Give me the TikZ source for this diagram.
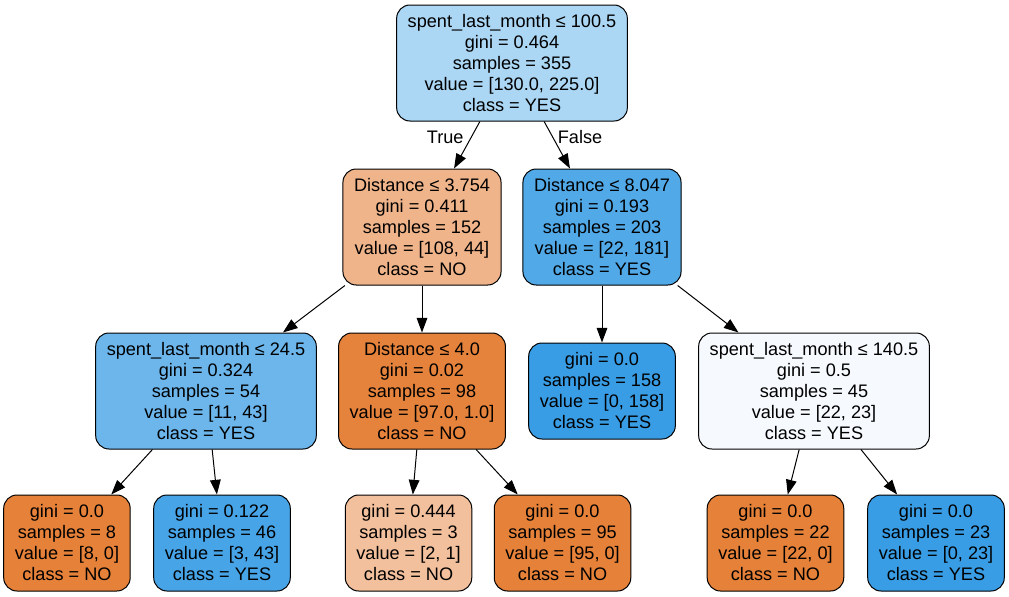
\documentclass[tikz,border=0pt]{standalone}
\usepackage{fontspec}
\setmainfont{Liberation Sans}
\usepackage{tikz}
\usetikzlibrary{arrows.meta,positioning}
\definecolor{yesfull}{HTML}{399DE5}
\definecolor{nofull}{HTML}{E58139}
\definecolor{rootfill}{HTML}{ABD6F4}
\definecolor{dlfill}{HTML}{F0B48A}
\definecolor{drfill}{HTML}{51A9E8}
\definecolor{llfill}{HTML}{6CB6EC}
\definecolor{lrfill}{HTML}{E5823B}
\definecolor{rrfill}{HTML}{F6FAFE}
\definecolor{llrfill}{HTML}{47A4E7}
\definecolor{lrlfill}{HTML}{F2C09C}

\begin{document}
\begin{tikzpicture}[x=0.75pt, y=-0.75pt, >={Triangle[length=11pt,width=8pt]}, node distance=123pt, on grid,
  line width=0.75pt, font=\fontsize{13.6}{15.75}\selectfont,
  split/.style={draw, rounded corners=10pt, align=center, inner xsep=8.3pt, minimum height=87pt},
  leaf/.style={split, minimum height=72pt}]
\useasboundingbox (0,0) rectangle (1009,596);
\node[split, fill=rootfill] (root) at (512,63) {spent\_last\_month ≤ 100.5\\gini = 0.464\\samples = 355\\value = [130.0, 225.0]\\class = YES};

\node[split, fill=dlfill, below=of root, xshift=-67.5pt] (dl) {Distance ≤ 3.754\\gini = 0.411\\samples = 152\\value = [108, 44]\\class = NO};
\node[split, fill=drfill, below=of root, xshift=67.5pt] (dr) {Distance ≤ 8.047\\gini = 0.193\\samples = 203\\value = [22, 181]\\class = YES};

\node[split, fill=llfill, below=of dl, xshift=-162pt] (ll) {spent\_last\_month ≤ 24.5\\gini = 0.324\\samples = 54\\value = [11, 43]\\class = YES};
\node[split, fill=lrfill, below=of dl] (lr) {Distance ≤ 4.0\\gini = 0.02\\samples = 98\\value = [97.0, 1.0]\\class = NO};
\node[leaf, fill=yesfull, below=of dr] (rl) {gini = 0.0\\samples = 158\\value = [0, 158]\\class = YES};
\node[split, fill=rrfill, below=of dr, xshift=159pt] (rr) {spent\_last\_month ≤ 140.5\\gini = 0.5\\samples = 45\\value = [22, 23]\\class = YES};

\node[leaf, fill=nofull, below=114pt of ll, xshift=-104.3pt] (lll) {gini = 0.0\\samples = 8\\value = [8, 0]\\class = NO};
\node[leaf, fill=llrfill, below=114pt of ll, xshift=12pt] (llr) {gini = 0.122\\samples = 46\\value = [3, 43]\\class = YES};
\node[leaf, fill=lrlfill, below=114pt of lr, xshift=-10.1pt] (lrl) {gini = 0.444\\samples = 3\\value = [2, 1]\\class = NO};
\node[leaf, fill=nofull, below=114pt of lr, xshift=105.4pt] (lrr) {gini = 0.0\\samples = 95\\value = [95, 0]\\class = NO};
\node[leaf, fill=nofull, below=114pt of rr, xshift=-28.9pt] (rrl) {gini = 0.0\\samples = 22\\value = [22, 0]\\class = NO};
\node[leaf, fill=yesfull, below=114pt of rr, xshift=91.5pt] (rrr) {gini = 0.0\\samples = 23\\value = [0, 23]\\class = YES};

\draw[->] (root) -- node[pos=0.34, left, xshift=-2pt]{True} (dl);
\draw[->] (root) -- node[pos=0.34, right]{False} (dr);
\draw[->] (dl) -- (ll);
\draw[->] (dl) -- (lr);
\draw[->] (dr) -- (rl);
\draw[->] (dr) -- (rr);
\draw[->] (ll) -- (lll);
\draw[->] (ll) -- (llr);
\draw[->] (lr) -- (lrl);
\draw[->] (lr) -- (lrr);
\draw[->] (rr) -- (rrl);
\draw[->] (rr) -- (rrr);
\end{tikzpicture}
\end{document}
